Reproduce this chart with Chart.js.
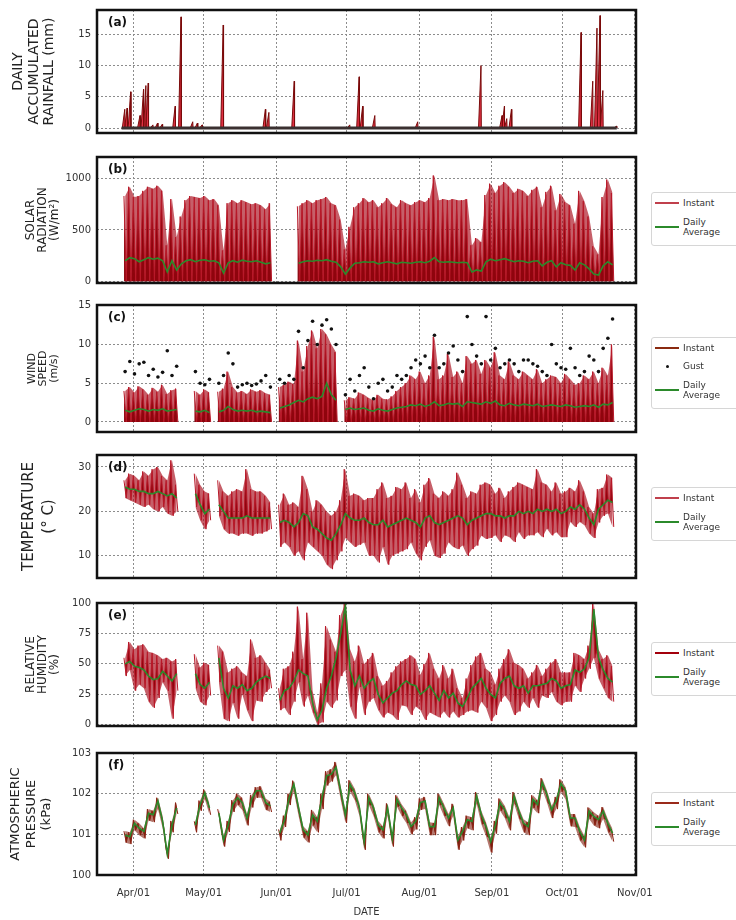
<!DOCTYPE html>
<html>
<head>
<meta charset="utf-8">
<script src="https://cdn.jsdelivr.net/npm/chart.js@4.4.1/dist/chart.umd.min.js"></script>
<style>
  body { margin: 0; background: #fff; }
  #page { position: relative; width: 736px; height: 920px; overflow: hidden; font-family: "DejaVu Sans", sans-serif; }
  #page canvas { position: absolute; left: 0; }
  .legend { position: absolute; left: 651px; width: 92px; border: 1px solid #d6d6d6; border-radius: 3px;
            padding: 2px 4px 8px 3px; font-size: 9px; color: #333; background: #fff; }
  .row { display: flex; align-items: center; height: 16px; }
  .row.two { height: 20px; line-height: 10px; margin-top: 6px; }
  .row.tight { margin-top: 2px; }
  .sw { width: 24px; margin-right: 4px; border-top: 2px solid; }
  .dot { width: 24px; margin-right: 4px; display: flex; justify-content: center; }
  .dot i { width: 3px; height: 3px; border-radius: 50%; background: #111; }
</style>
</head>
<body>
<div id="page">
  <canvas id="rain" width="736" height="132" style="top:4px"></canvas>
  <canvas id="solar" width="736" height="135" style="top:151px"></canvas>
  <canvas id="wind" width="736" height="136" style="top:299px"></canvas>
  <canvas id="temp" width="736" height="132" style="top:449px"></canvas>
  <canvas id="hum" width="736" height="132" style="top:597px"></canvas>
  <canvas id="pres" width="736" height="173" style="top:747px"></canvas>

  <div class="legend" style="top:192px">
    <div class="row"><span class="sw" style="border-color:#c0404c"></span>Instant</div>
    <div class="row two"><span class="sw" style="border-color:#2b8a2b"></span>Daily<br>Average</div>
  </div>
  <div class="legend" style="top:337px">
    <div class="row"><span class="sw" style="border-color:#8a2a10"></span>Instant</div>
    <div class="row tight"><span class="dot"><i></i></span>Gust</div>
    <div class="row two"><span class="sw" style="border-color:#2b8a2b"></span>Daily<br>Average</div>
  </div>
  <div class="legend" style="top:487px">
    <div class="row"><span class="sw" style="border-color:#c0404c"></span>Instant</div>
    <div class="row two"><span class="sw" style="border-color:#2b8a2b"></span>Daily<br>Average</div>
  </div>
  <div class="legend" style="top:642px">
    <div class="row"><span class="sw" style="border-color:#a3000c"></span>Instant</div>
    <div class="row two"><span class="sw" style="border-color:#2b8a2b"></span>Daily<br>Average</div>
  </div>
  <div class="legend" style="top:792px">
    <div class="row"><span class="sw" style="border-color:#9a2a1a"></span>Instant</div>
    <div class="row two"><span class="sw" style="border-color:#2b8a2b"></span>Daily<br>Average</div>
  </div>
</div>
<script>
Chart.defaults.font.family = '"DejaVu Sans", sans-serif';

// x axis: day of year, month ticks
const monthDays = [91, 121, 152, 182, 213, 244, 274, 305];
const monthLabels = ["Apr/01", "May/01", "Jun/01", "Jul/01", "Aug/01", "Sep/01", "Oct/01", "Nov/01"];
// one sample every 2 days, 28 Mar .. 24 Oct
const sampleDays = Array.from({ length: 106 }, (_, i) => 87 + 2 * i);

// (a) rainfall events: day of year and daily accumulated mm
const rainDay = [87, 88, 89.5, 93.5, 95, 96, 97, 99, 101, 103, 108.5, 111, 116, 118, 120, 129, 147, 148.5, 159.3,
  183, 187, 188.5, 193.7, 212, 239, 248, 249, 250, 252, 281.7, 286.7, 288.5, 289.8, 291, 296.8];
const rainMm = [3, 3.2, 5.8, 2, 6.2, 6.8, 7.2, 0.5, 0.8, 0.6, 3.5, 17.8, 1, 0.8, 0.5, 16.5, 3, 2.5, 7.5,
  0.5, 8.2, 3.5, 2, 1, 10, 2, 3.5, 1.5, 3, 15.3, 7.5, 16, 18, 6, 0.3];

// (b) solar radiation W/m2
const solarPeak = [
  830, 920, 820, 830, 880, 920, 900, 930, 880, 350,
  800, 430, 630, 790, 830, 820, 810, 830, 790, 800,
  740, 300, 760, 790, 760, 790, 770, 750, 760, 740,
  700, 760, null, null, null, null, null, 730, 760, 790,
  760, 790, 800, 820, 760, 740, 600, 310, 530, 720,
  760, 810, 770, 790, 720, 760, 810, 750, 720, 790,
  760, 740, 770, 790, 770, 810, 1030, 790, 800, 790,
  800, 790, 790, 800, 350, 420, 380, 840, 950, 860,
  930, 965, 920, 860, 900, 880, 830, 890, 920, 720,
  870, 930, 690, 850, 770, 740, 560, 880, 780, 630,
  340, 260, 820, 990, 860, null];
const solarAvg = [
  200, 230, 220, 190, 210, 230, 215, 225, 200, 90,
  200, 110, 170, 200, 210, 190, 205, 210, 195, 200,
  180, 80, 180, 200, 185, 205, 195, 190, 200, 185,
  170, 180, null, null, null, null, null, 175, 190, 200,
  195, 205, 200, 210, 195, 185, 140, 70, 130, 175,
  180, 190, 185, 190, 170, 180, 190, 180, 170, 185,
  180, 175, 185, 190, 180, 195, 230, 190, 185, 190,
  185, 180, 185, 180, 90, 110, 100, 190, 215, 200,
  210, 220, 205, 190, 200, 195, 180, 195, 200, 150,
  185, 200, 140, 180, 160, 155, 110, 180, 160, 120,
  70, 60, 150, 190, 160, null];

// (c) wind speed m/s
const windMax = [
  4.0, 4.5, 3.8, 4.6, 4.2, 3.5, 4.4, 3.9, 4.8, 3.6,
  4.1, 4.3, null, null, null, 4.0, 3.5, 4.2, 3.8, null,
  3.9, 4.3, 6.5, 4.5, 3.8, 4.0, 3.6, 4.2, 3.9, 4.1,
  3.7, 3.5, null, 4.5, 4.8, 5.2, 4.9, 10.5, 6.5, 9.8,
  11.8, 9.5, 12.0, 11.3, 10.0, 9.0, null, 2.8, 3.2, 3.0,
  3.8, 3.5, 3.1, 2.8, 3.5, 3.0, 2.9, 3.3, 4.0, 4.5,
  5.0, 6.0, 5.5, 6.5, 5.0, 6.0, 11.0, 5.5, 6.0, 8.8,
  5.8, 6.5, 5.0, 8.5, 7.5, 8.0, 6.2, 8.0, 7.0, 9.0,
  6.0, 5.5, 7.8, 6.0, 5.5, 6.5, 6.0, 5.5, 6.8, 5.0,
  5.5, 6.0, 5.8, 5.0, 6.2, 5.5, 4.8, 5.0, 6.0, 5.5,
  6.5, 5.0, 7.0, 6.0, 10.0, null];
const windGust = [
  6.5, 7.8, 6.2, 7.5, 7.7, 6.0, 6.8, 5.8, 6.4, 9.2,
  6.0, 7.2, null, null, null, 6.5, 5.0, 4.8, 5.5, null,
  5.0, 6.0, 8.9, 7.5, 4.5, 4.8, 5.0, 4.7, 4.9, 5.3,
  6.0, 4.5, null, 5.5, 5.0, 6.0, 5.5, 11.7, 7.0, 10.5,
  13.0, 10.0, 12.5, 13.2, 12.0, 10.0, null, 3.5, 5.5, 4.0,
  6.0, 7.0, 4.5, 3.0, 5.0, 5.5, 4.0, 4.5, 6.0, 5.5,
  6.0, 7.0, 8.0, 7.5, 8.5, 7.0, 11.2, 7.0, 7.5, 8.9,
  9.8, 8.0, 6.5, 13.6, 10.0, 8.5, 7.5, 13.6, 8.0, 9.5,
  7.0, 7.5, 8.0, 7.5, 6.5, 8.0, 8.0, 7.5, 7.2, 6.5,
  6.0, 10.0, 7.5, 7.0, 6.8, 9.5, 7.0, 6.0, 6.5, 8.5,
  8.0, 6.5, 9.5, 10.8, 13.3, null];
const windAvg = [
  1.5, 1.3, 1.5, 1.7, 1.6, 1.4, 1.6, 1.5, 1.7, 1.4,
  1.5, 1.6, null, null, null, 1.4, 1.3, 1.5, 1.2, null,
  1.3, 1.5, 2.0, 1.6, 1.4, 1.5, 1.4, 1.5, 1.3, 1.4,
  1.3, 1.2, null, 1.8, 2.0, 2.2, 2.5, 2.8, 2.6, 3.0,
  3.2, 3.0, 3.3, 5.0, 3.5, 2.8, null, 1.6, 1.8, 1.6,
  1.7, 1.8, 1.5, 1.4, 1.7, 1.5, 1.4, 1.6, 1.8, 1.9,
  2.0, 2.2, 2.1, 2.3, 2.0, 2.2, 2.6, 2.1, 2.2, 2.4,
  2.3, 2.4, 2.0, 2.6, 2.5, 2.4, 2.3, 2.6, 2.4, 2.7,
  2.2, 2.1, 2.4, 2.2, 2.1, 2.3, 2.2, 2.1, 2.3, 2.0,
  2.1, 2.2, 2.1, 2.0, 2.2, 2.1, 1.9, 2.0, 2.1, 2.0,
  2.2, 1.9, 2.3, 2.2, 2.5, null];

// (d) temperature deg C
const tempHi = [
  27, 28.5, 28, 27, 29, 28, 29.5, 30, 28, 27,
  31.5, 26, null, null, null, 28.5, 26, 24.5, 24, null,
  27, 24.5, 23.5, 24.5, 25, 24.5, 29.5, 25, 24.5, 24.5,
  23.5, 22, null, 21.5, 24, 21.5, 22, 21, 28, 25,
  20, 22.5, 21.5, 20, 19, 20, 22.5, 29.5, 23.5, 24,
  23.5, 22.5, 23, 23, 25, 26.5, 23, 23.5, 25.5, 25,
  26.5, 23, 25, 22, 26, 27.5, 24, 23, 24.5, 23.5,
  25, 28.7, 26, 23, 24.5, 24, 26, 26.5, 26, 24,
  25.3, 23, 24.5, 25.5, 26.5, 26, 25.5, 25, 29.5, 26.5,
  26, 24.5, 26.5, 24, 24.5, 25.3, 24.5, 27, 24.5, 21,
  19.5, 25, 25.3, 28.3, 27.5, null];
const tempLo = [
  23, 22.5, 22, 21.5, 21, 21.5, 20.5, 20, 21, 19.5,
  19, 20, null, null, null, 21, 18, 16, 18, null,
  19, 16, 15, 15, 14.5, 15, 15, 14.5, 15, 15,
  15.5, 16, null, 12, 13, 12, 10, 11, 9, 13,
  12, 11, 10, 8, 7, 9, 11, 14, 13, 12,
  12.5, 13, 10, 10, 8.5, 12, 8, 10, 10.5, 11,
  11.5, 13, 10.5, 9, 12, 13.5, 10, 9.5, 10.5, 13,
  12, 11.5, 12.3, 10, 11.5, 12.3, 14.5, 13.8, 14, 14.6,
  13.1, 14.6, 14.2, 13.1, 15.3, 13.8, 14.6, 14.6, 15.3, 14.2,
  16.1, 14.6, 15.3, 14.2, 14.2, 17.6, 16.5, 17.6, 16.9, 15,
  14, 17.5, 19, 19.5, 16.5, null];
const tempAvg = [
  25.5, 25, 25, 24.5, 24.5, 24, 24, 24.5, 24, 23.5,
  24, 23, null, null, null, 24, 21.5, 19.5, 20.5, null,
  21.5, 20, 18.5, 18.5, 18.5, 18.5, 19, 18.5, 18.5, 18.5,
  18.5, 18.5, null, 17.5, 18, 17.5, 16.5, 17.5, 19.5, 19,
  16.5, 16, 15, 14, 13.5, 15, 17, 19.5, 18.5, 18,
  18, 18.5, 17.5, 17, 17, 18, 16.5, 17, 17.5, 18,
  18.5, 18, 17.5, 16.5, 18.5, 19, 17.5, 17, 17.5, 18,
  18.5, 19, 18.5, 17, 18, 18.5, 19, 19.5, 19.5, 19,
  19, 18.5, 19, 19, 20, 19.5, 20, 19.5, 20.5, 20,
  20.5, 20, 20.5, 19.5, 20, 21, 20.5, 21.5, 20.5, 18.5,
  17, 20.5, 21.5, 22.5, 22, null];

// (e) relative humidity %
const humHi = [
  55, 68, 62, 65, 66, 60, 59, 57, 54, 55,
  52, 54, null, null, null, 58, 47, 51, 49, null,
  65, 60, 43, 46, 48, 43, 40, 70, 55, 57,
  51, 45, null, 30, 46, 48, 60, 97, 54, 92,
  28, 10, 34, 81, 70, 60, 90, 100, 62, 52,
  65, 50, 54, 59, 40, 32, 36, 43, 48, 52,
  54, 57, 54, 41, 50, 59, 46, 38, 49, 38,
  46, 30, 22, 38, 49, 56, 59, 46, 43, 33,
  46, 54, 62, 51, 49, 46, 38, 43, 49, 40,
  46, 51, 54, 43, 43, 43, 59, 57, 54, 65,
  100, 62, 54, 57, 48, null];
const humLo = [
  40, 45, 28, 33, 30, 19, 14, 22, 35, 28,
  5, 28, null, null, null, 30, 19, 16, 24, null,
  35, 5, 3, 18, 5, 25, 12, 3, 20, 19,
  27, 30, null, 12, 14, 8, 19, 35, 15, 24,
  10, 0, 2, 19, 14, 20, 40, 45, 15, 5,
  31, 8, 19, 22, 12, 6, 10, 8, 4, 16,
  15, 8, 15, 12, 4, 10, 8, 6, 11, 6,
  11, 6, 8, 11, 12, 10, 19, 14, 3, 8,
  19, 24, 19, 8, 11, 19, 14, 22, 14, 24,
  22, 27, 19, 16, 19, 19, 32, 27, 38, 46,
  55, 38, 30, 22, 19, null];
const humAvg = [
  50, 52, 48, 47, 45, 40, 37, 38, 44, 40,
  36, 42, null, null, null, 42, 33, 30, 35, null,
  55, 30, 22, 32, 30, 33, 28, 30, 35, 38,
  40, 38, null, 20, 28, 30, 36, 45, 42, 40,
  18, 4, 12, 30, 40, 55, 75, 98, 45, 32,
  40, 30, 35, 38, 25, 18, 22, 26, 28, 33,
  36, 33, 32, 25, 28, 32, 26, 20, 28, 22,
  26, 18, 15, 22, 30, 34, 38, 30, 25, 22,
  34, 38, 40, 32, 30, 32, 26, 32, 32, 33,
  34, 38, 36, 30, 32, 33, 45, 43, 46, 55,
  95, 55, 45, 38, 35, null];

// (f) atmospheric pressure kPa
const presHi = [
  101.08, 101.05, 101.36, 101.27, 101.15, 101.62, 101.58, 101.9, 101.45, 100.62,
  101.33, 101.78, null, null, null, 101.32, 101.83, 102.1, 101.76, null,
  101.62, 100.98, 101.33, 101.84, 102.0, 101.9, 101.5, 101.97, 102.16, 102.18,
  101.88, 101.8, null, 101.12, 101.46, 102.0, 102.32, 101.76, 101.2, 101.08,
  101.6, 101.42, 102.0, 102.55, 102.6, 102.78, 102.18, 101.6, 102.33, 102.12,
  101.76, 100.92, 102.0, 101.74, 101.33, 101.2, 101.76, 101.0, 101.96, 101.74,
  101.58, 101.3, 101.42, 101.88, 101.92, 101.3, 101.28, 102.0, 101.76, 101.5,
  101.75, 100.96, 101.18, 101.46, 101.42, 102.04, 101.58, 101.3, 100.92, 101.33,
  101.88, 101.7, 101.42, 102.04, 101.66, 101.37, 101.3, 101.96, 101.84, 102.38,
  102.08, 101.7, 101.92, 102.35, 102.16, 101.5, 101.5, 101.18, 100.96, 101.66,
  101.54, 101.46, 101.67, 101.37, 101.13, null];
const presLo = [
  100.8, 100.76, 101.1, 100.98, 100.9, 101.34, 101.3, 101.62, 101.15, 100.4,
  101.05, 101.5, null, null, null, 101.05, 101.58, 101.86, 101.48, null,
  101.35, 100.7, 101.06, 101.55, 101.72, 101.6, 101.22, 101.66, 101.9, 101.9,
  101.6, 101.55, null, 100.85, 101.18, 101.72, 102.05, 101.46, 100.92, 100.8,
  101.22, 101.05, 101.62, 102.2, 102.3, 102.45, 101.85, 101.28, 102.05, 101.84,
  101.45, 100.62, 101.72, 101.45, 101.05, 100.9, 101.46, 100.7, 101.68, 101.45,
  101.28, 101.0, 101.12, 101.6, 101.62, 100.98, 100.98, 101.72, 101.45, 101.2,
  101.45, 100.62, 100.85, 101.15, 101.1, 101.75, 101.25, 100.95, 100.55, 101.02,
  101.58, 101.4, 101.1, 101.75, 101.38, 101.05, 100.98, 101.65, 101.52, 102.1,
  101.78, 101.4, 101.62, 102.05, 101.85, 101.2, 101.18, 100.85, 100.68, 101.38,
  101.22, 101.15, 101.38, 101.05, 100.82, null];
const presAvg = [
  100.98, 100.94, 101.27, 101.15, 101.07, 101.52, 101.48, 101.82, 101.32, 100.52,
  101.23, 101.65, null, null, null, 101.23, 101.73, 102.02, 101.65, null,
  101.52, 100.86, 101.23, 101.73, 101.9, 101.78, 101.4, 101.86, 102.07, 102.07,
  101.78, 101.7, null, 101.03, 101.36, 101.9, 102.23, 101.65, 101.11, 100.98,
  101.48, 101.32, 101.9, 102.44, 102.48, 102.65, 102.07, 101.48, 102.23, 102.02,
  101.65, 100.82, 101.9, 101.65, 101.23, 101.11, 101.65, 100.9, 101.86, 101.65,
  101.48, 101.19, 101.32, 101.78, 101.82, 101.19, 101.19, 101.9, 101.65, 101.4,
  101.65, 100.86, 101.07, 101.36, 101.32, 101.94, 101.48, 101.19, 100.82, 101.23,
  101.78, 101.6, 101.32, 101.94, 101.57, 101.27, 101.19, 101.86, 101.73, 102.28,
  101.98, 101.6, 101.82, 102.25, 102.07, 101.4, 101.4, 101.07, 100.86, 101.57,
  101.44, 101.36, 101.57, 101.27, 101.03, null];

const GREEN = "#2b8a2b";

// instant values drawn as a zigzag: high at the sample day, low the next day
function zigzag(hi, lo) {
  const pts = [];
  sampleDays.forEach((d, i) => {
    if (hi[i] == null) { pts.push({ x: d, y: null }); return; }
    pts.push({ x: d, y: hi[i] });
    pts.push({ x: d + 1, y: lo ? lo[i] : 0 });
  });
  return pts;
}
const daily = (vals) => sampleDays.map((d, i) => ({ x: d + 0.5, y: vals[i] }));

// zigzag filled toward the daily average (index 0) or zero, over a softer envelope
function instantBand(hi, lo, colors) {
  const c = colors || {};
  const dark = c.dark || "rgba(140,0,10,0.95)";
  const pale = c.pale || "rgba(168,12,28,0.66)";
  const sets = [
    { data: zigzag(hi, lo), borderColor: c.edge || "#b81828", borderWidth: 1, order: 2,
      fill: lo ? 0 : "origin", backgroundColor: dark },
    { data: daily(hi), borderWidth: 0, borderColor: "rgba(0,0,0,0)", order: 3,
      fill: lo ? false : "origin", backgroundColor: pale },
  ];
  if (lo) sets.push({ data: daily(lo), borderWidth: 0, borderColor: "rgba(0,0,0,0)", order: 3,
    fill: "-1", backgroundColor: pale });
  return sets;
}

function rainPoints() {
  const pts = [{ x: rainDay[0] - 1, y: 0 }];
  rainDay.forEach((d, i) => {
    pts.push({ x: d - 0.7, y: 0 }, { x: d + 0.35, y: rainMm[i] }, { x: d + 0.5, y: 0 });
  });
  pts.push({ x: rainDay[rainDay.length - 1] + 0.5, y: 0 });
  return pts;
}

// frame round the plot and the (a)..(f) tag
const panelTag = {
  id: "panelTag",
  afterDraw(chart, args, opts) {
    const { ctx, chartArea: a } = chart;
    ctx.save();
    ctx.strokeStyle = "#111";
    ctx.lineWidth = 2.5;
    ctx.strokeRect(a.left, a.top, a.right - a.left, a.bottom - a.top);
    ctx.fillStyle = "#111";
    ctx.font = 'bold 12px "DejaVu Sans"';
    ctx.textBaseline = "middle";
    ctx.fillText(opts.text, a.left + 11, a.top + 13);
    ctx.restore();
  },
};

function makePanel(id, p) {
  const last = !!p.last;
  return new Chart(document.getElementById(id), {
    type: "line",
    data: { datasets: p.datasets },
    plugins: [panelTag],
    options: {
      responsive: false,
      animation: false,
      layout: { autoPadding: false, padding: { top: 6, right: 100, bottom: last ? 0 : 3, left: 0 } },
      elements: { point: { radius: 0 }, line: { tension: 0 } },
      plugins: { legend: { display: false }, tooltip: { enabled: false }, panelTag: { text: p.tag } },
      scales: {
        x: {
          type: "linear", min: 75.5, max: 305.5,
          afterBuildTicks: (s) => { s.ticks = monthDays.map((v) => ({ value: v })); },
          afterFit: (s) => { s.height = last ? 45 : 0; s.paddingLeft = 0; s.paddingRight = 0; },
          grid: { color: "#8c8c8c", lineWidth: 1, drawTicks: false },
          border: { display: false, dash: [2, 2] },
          ticks: {
            display: last, autoSkip: false, maxRotation: 0, padding: 12,
            color: "#333", font: { size: 10 },
            callback: (v, i) => monthLabels[i],
          },
          title: { display: last, text: "DATE", color: "#333", font: { size: 10 }, padding: { top: 0, bottom: 2 } },
        },
        y: {
          min: p.yMin, max: p.yMax,
          afterBuildTicks: (s) => { s.ticks = p.yTicks.map((v) => ({ value: v })); },
          afterFit: (s) => { s.width = 97; s.paddingTop = 0; s.paddingBottom = 0; },
          grid: { color: "#8c8c8c", lineWidth: 1, drawTicks: false },
          border: { display: false, dash: [2, 2] },
          ticks: { padding: 6, color: "#333", font: { size: 10 }, callback: (v) => String(v) },
          title: {
            display: true, text: p.title, color: "#222",
            font: { size: p.titleSize, lineHeight: p.titleLH },
            padding: { top: p.titlePad, bottom: 0 },
          },
        },
      },
    },
  });
}

makePanel("rain", {
  tag: "(a)", yMin: -0.8, yMax: 18.9, yTicks: [0, 5, 10, 15],
  title: ["DAILY", "ACCUMULATED", "RAINFALL (mm)"], titleSize: 14, titleLH: 1.1, titlePad: 11,
  datasets: [
    { data: [{ x: rainDay[0] - 1, y: 0 }, { x: rainDay[rainDay.length - 1] + 0.5, y: 0 }],
      borderColor: "#3a3030", borderWidth: 3, order: 0 },
    { data: rainPoints(), borderColor: "#7a0a0a", borderWidth: 1, order: 1,
      fill: "origin", backgroundColor: "rgba(222,30,52,0.92)" },
  ],
});

makePanel("solar", {
  tag: "(b)", yMin: -17, yMax: 1210, yTicks: [0, 500, 1000],
  title: ["SOLAR", "RADIATION", "(W/m²)"], titleSize: 12, titleLH: 1.0, titlePad: 25,
  datasets: [
    { data: daily(solarAvg), borderColor: GREEN, borderWidth: 1.6, order: 0 },
    ...instantBand(solarPeak, null),
  ],
});

makePanel("wind", {
  tag: "(c)", yMin: -1.3, yMax: 15.1, yTicks: [0, 5, 10, 15],
  title: ["WIND", "SPEED", "(m/s)"], titleSize: 11, titleLH: 1.0, titlePad: 26.5,
  datasets: [
    { data: daily(windAvg), borderColor: GREEN, borderWidth: 1.6, order: 0 },
    { data: daily(windGust), showLine: false, pointRadius: 1.8, pointBackgroundColor: "#111",
      pointBorderWidth: 0, order: 1 },
    ...instantBand(windMax, null),
  ],
});

makePanel("temp", {
  tag: "(d)", yMin: 5, yMax: 32.7, yTicks: [10, 20, 30],
  title: ["TEMPERATURE", "(° C)"], titleSize: 15, titleLH: 1.33, titlePad: 19.5,
  datasets: [
    { data: daily(tempAvg), borderColor: GREEN, borderWidth: 1.6, order: 0 },
    ...instantBand(tempHi, tempLo),
  ],
});

makePanel("hum", {
  tag: "(e)", yMin: -1, yMax: 100, yTicks: [0, 25, 50, 75, 100],
  title: ["RELATIVE", "HUMIDITY", "(%)"], titleSize: 12, titleLH: 1.0, titlePad: 25,
  datasets: [
    { data: daily(humAvg), borderColor: GREEN, borderWidth: 1.6, order: 0 },
    ...instantBand(humHi, humLo),
  ],
});

makePanel("pres", {
  tag: "(f)", yMin: 100, yMax: 103, yTicks: [100, 101, 102, 103], last: true,
  title: ["ATMOSPHERIC", "PRESSURE", "(kPa)"], titleSize: 13, titleLH: 1.2, titlePad: 8,
  datasets: [
    { data: daily(presAvg), borderColor: GREEN, borderWidth: 1.6, order: 0 },
    ...instantBand(presHi, presLo, { edge: "#8a2010", dark: "rgba(110,20,8,0.9)", pale: "rgba(130,30,14,0.6)" }),
  ],
});
</script>
</body>
</html>
